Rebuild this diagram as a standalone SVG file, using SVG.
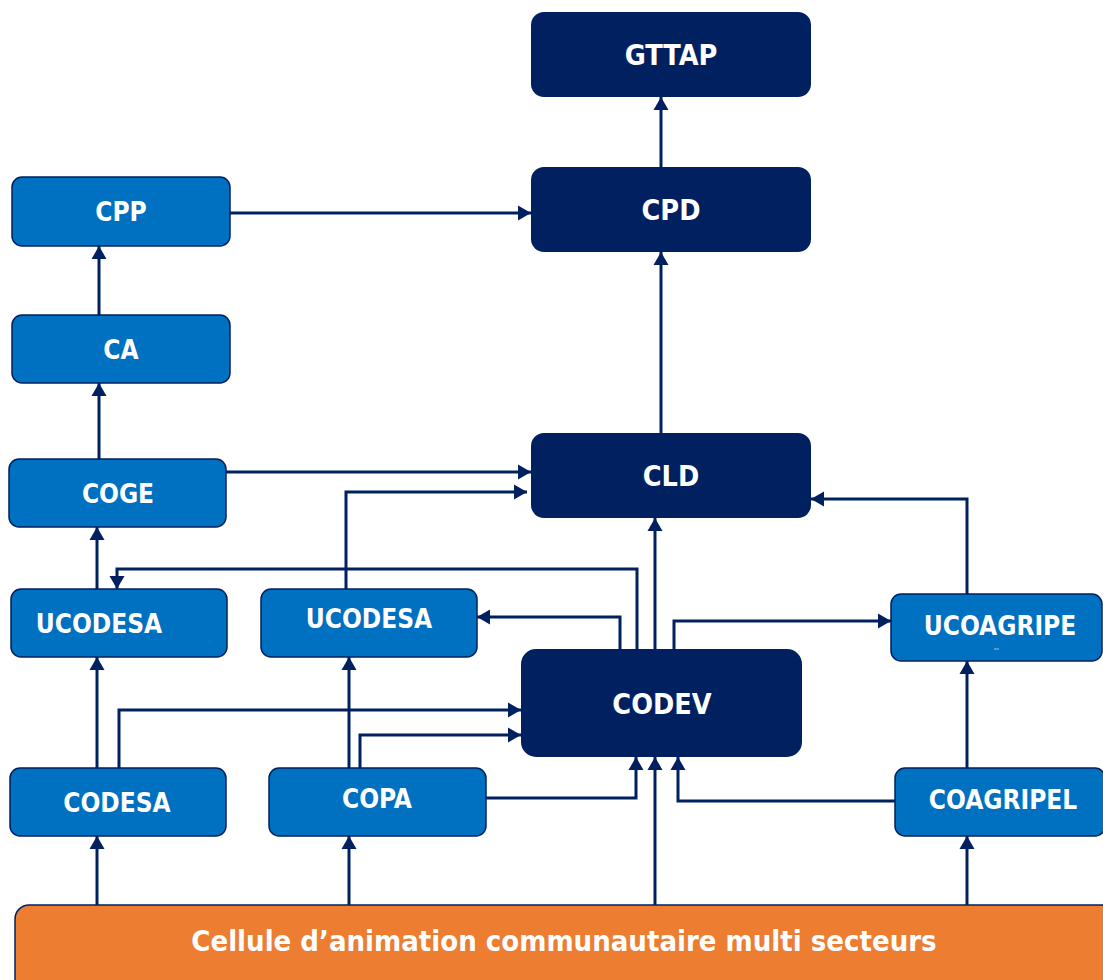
<svg xmlns="http://www.w3.org/2000/svg" width="1103" height="980" viewBox="0 0 1103 980">
<style>
.dark{fill:#002060;}
.blue{fill:#0070C0;stroke:#002060;stroke-width:1.5;}
.orange{fill:#ED7D31;stroke:#002060;stroke-width:1.5;}
.t{fill:#ffffff;font-family:"DejaVu Sans Condensed","DejaVu Sans",Verdana,sans-serif;font-weight:bold;text-anchor:middle;}
.td{font-size:28.5px;}
.tb{font-size:26px;}
.to{font-size:29px;}
.c{fill:none;stroke:#002060;stroke-width:3;marker-end:url(#ah);}
</style>
<defs>
<marker id="ah" markerWidth="14" markerHeight="16" refX="13" refY="8" orient="auto" markerUnits="userSpaceOnUse">
<path d="M0,0.5 L13,8 L0,15.5 z" fill="#002060"/>
</marker>
</defs>
<rect width="1103" height="980" fill="#ffffff"/>
<g id="connectors">
<path class="c" d="M661,167 V97"/>
<path class="c" d="M230,213 H531"/>
<path class="c" d="M99,315 V246"/>
<path class="c" d="M99,459 V383"/>
<path class="c" d="M661,433 V252"/>
<path class="c" d="M226,472 H531"/>
<path class="c" d="M346,589 V492 H527"/>
<path class="c" d="M637,649 V569 H117 V589"/>
<path class="c" d="M655,649 V518"/>
<path class="c" d="M620,649 V617 H477"/>
<path class="c" d="M674,649 V621 H891"/>
<path class="c" d="M967,594 V499 H811"/>
<path class="c" d="M97,589 V527"/>
<path class="c" d="M97,768 V657"/>
<path class="c" d="M119,768 V710 H521"/>
<path class="c" d="M349,768 V657"/>
<path class="c" d="M360,768 V735 H521"/>
<path class="c" d="M486,798 H636 V757"/>
<path class="c" d="M655,905 V757"/>
<path class="c" d="M895,801 H678 V757"/>
<path class="c" d="M967,768 V661"/>
<path class="c" d="M97,905 V836"/>
<path class="c" d="M349,905 V836"/>
<path class="c" d="M967,905 V836"/>
</g>
<g id="gttap"><rect class="dark" x="531" y="12" width="280" height="85" rx="13"/><text class="t td" x="671" y="65">GTTAP</text></g>
<g id="cpd"><rect class="dark" x="531" y="167" width="280" height="85" rx="13"/><text class="t td" x="671" y="220">CPD</text></g>
<g id="cld"><rect class="dark" x="531" y="433" width="280" height="85" rx="13"/><text class="t td" x="671" y="486">CLD</text></g>
<g id="codev"><rect class="dark" x="521" y="649" width="281" height="108" rx="15"/><text class="t td" x="662" y="714">CODEV</text></g>
<g id="cpp"><rect class="blue" x="12" y="177" width="218" height="69" rx="10"/><text class="t tb" x="121" y="221">CPP</text></g>
<g id="ca"><rect class="blue" x="12" y="315" width="218" height="68" rx="10"/><text class="t tb" x="121" y="359">CA</text></g>
<g id="coge"><rect class="blue" x="9" y="459" width="217" height="68" rx="10"/><text class="t tb" x="118" y="503">COGE</text></g>
<g id="ucodesa1"><rect class="blue" x="11" y="589" width="216" height="68" rx="10"/><text class="t tb" x="99" y="633">UCODESA</text></g>
<g id="ucodesa2"><rect class="blue" x="261" y="589" width="216" height="68" rx="10"/><text class="t tb" x="369" y="628">UCODESA</text></g>
<g id="ucoagripe"><rect class="blue" x="891" y="594" width="211" height="67" rx="10"/><text class="t tb" x="1000" y="635">UCOAGRIPE</text><line x1="994" y1="649" x2="999" y2="649" stroke="#9ec3e6" stroke-width="1"/></g>
<g id="codesa"><rect class="blue" x="10" y="768" width="216" height="68" rx="10"/><text class="t tb" x="117" y="812">CODESA</text></g>
<g id="copa"><rect class="blue" x="269" y="768" width="217" height="68" rx="10"/><text class="t tb" x="377" y="808">COPA</text></g>
<g id="coagripel"><rect class="blue" x="895" y="768" width="210" height="68" rx="10"/><text class="t tb" x="1003" y="809">COAGRIPEL</text></g>
<g id="cellule"><rect class="orange" x="15" y="905" width="1100" height="90" rx="14"/><text class="t to" x="564" y="951">Cellule d’animation communautaire multi secteurs</text></g>
</svg>
